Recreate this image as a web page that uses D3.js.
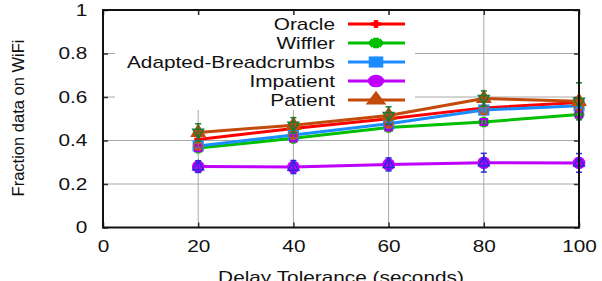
<html lang="en">
<head>
<meta charset="UTF-8">
<title>Fraction data on WiFi</title>
<script src="https://cdn.jsdelivr.net/npm/d3@7"></script>
<style>
  body { margin: 0; background: #fff; }
  text { font-family: "Liberation Sans", Arial, sans-serif; }
</style>
</head>
<body>
<script>
// values
var delays = [20, 40, 60, 80, 100]
var xTicks = [0, 20, 40, 60, 80, 100]
var yTicks = [0, 0.2, 0.4, 0.6, 0.8, 1]
var yTickLabels = ["0", "0.2", "0.4", "0.6", "0.8", "1"]

var oracle = [0.405, 0.455, 0.50, 0.55, 0.575]
var wiffler = [0.365, 0.41, 0.46, 0.485, 0.52]
var breadcrumbs = [0.375, 0.425, 0.477, 0.54, 0.56]
var impatient = [0.28, 0.278, 0.29, 0.298, 0.297]
var patient = [0.437, 0.47, 0.515, 0.593, 0.58]

var wifflerErr = [0.01, 0.01, 0.01, 0.012, 0.012]
var breadcrumbsErr = [0.015, 0.015, 0.015, 0.02, 0.02]
var impatientErr = [0.027, 0.03, 0.03, 0.043, 0.043]
var patientErr = [0.04, 0.035, 0.04, 0.035, 0.085]

var names = ["Oracle", "Wiffler", "Adapted-Breadcrumbs", "Impatient", "Patient"]

var width = 602, height = 281
var pLeft = 103, pRight = 579, pTop = 10, pBottom = 227.5
var sx = 1.3 // the figure looks stretched sideways

var svg = d3.select('body').append('svg')
  .attr('width', width)
  .attr('height', height)

var x = d3.scaleLinear().domain([0, 100]).range([pLeft, pRight])
var y = d3.scaleLinear().domain([0, 1]).range([pBottom, pTop])

// grid
var grid = svg.append('g').attr('stroke', '#a8a8a8').attr('stroke-width', 1)
grid.selectAll('.gx').data(xTicks.slice(1, -1)).enter().append('line')
  .attr('x1', d => x(d)).attr('x2', d => x(d))
  .attr('y1', pTop).attr('y2', pBottom)
grid.selectAll('.gy').data(yTicks.slice(1, -1)).enter().append('line')
  .attr('y1', d => y(d)).attr('y2', d => y(d))
  .attr('x1', pLeft).attr('x2', pRight)

// axes with inward ticks on all sides
function styleAxis(g) {
  g.select('.domain').remove()
  g.selectAll('line').attr('stroke', '#333').attr('stroke-width', 1.5)
  g.selectAll('text')
    .attr('font-size', 16)
    .attr('fill', '#111')
    .attr('font-family', '"Liberation Sans", Arial, sans-serif')
}
svg.append('g').attr('transform', `translate(0,${pBottom})`)
  .call(d3.axisBottom(x).tickValues(xTicks).tickSizeInner(-5).tickSizeOuter(0).tickPadding(13))
  .call(styleAxis)
  .selectAll('text').attr('transform', `scale(${sx},1)`)
svg.append('g').attr('transform', `translate(${pLeft},0)`)
  .call(d3.axisLeft(y).tickValues(yTicks).tickFormat((d, i) => yTickLabels[i]).tickSizeInner(-5).tickSizeOuter(0).tickPadding(12))
  .call(styleAxis)
  .selectAll('text').attr('transform', `scale(${sx},1)`)
svg.append('g').attr('transform', `translate(0,${pTop})`)
  .call(d3.axisTop(x).tickValues(xTicks).tickSizeInner(-5).tickSizeOuter(0).tickFormat(''))
  .call(styleAxis)
svg.append('g').attr('transform', `translate(${pRight},0)`)
  .call(d3.axisRight(y).tickValues(yTicks).tickSizeInner(-5).tickSizeOuter(0).tickFormat(''))
  .call(styleAxis)

// axis titles (the bottom one runs off the edge in the original)
svg.append('text')
  .attr('transform', `translate(${(pLeft + pRight) / 2},283) scale(${sx},1)`)
  .attr('text-anchor', 'middle').attr('font-size', 16).attr('fill', '#111')
  .text('Delay Tolerance (seconds)')
svg.append('text')
  .attr('transform', 'translate(24,118) rotate(-90)')
  .attr('text-anchor', 'middle').attr('font-size', 16.5).attr('fill', '#111')
  .text('Fraction data on WiFi')

// legend box (opaque, no border)
svg.append('rect')
  .attr('x', 115).attr('y', 15).attr('width', 300).attr('height', 95)
  .attr('fill', '#fff')

var series = [
  { name: names[0], values: oracle, color: '#ff0000', sym: d3.symbolPlus, size: 22, filled: false, sw: 3.5 },
  { name: names[1], values: wiffler, color: '#00c000', sym: d3.symbolAsterisk, size: 80, filled: false, sw: 4.5 },
  { name: names[2], values: breadcrumbs, color: '#1a8cff', sym: d3.symbolSquare, size: 125, filled: true },
  { name: names[3], values: impatient, color: '#c000ff', sym: d3.symbolCircle, size: 125, filled: true },
  { name: names[4], values: patient, color: '#c24a0a', sym: d3.symbolTriangle, size: 110, filled: true }
]

var line = d3.line().x((d, i) => x(delays[i])).y(d => y(d))

function drawMarker(g, s, cx, cy, stretch) {
  var p = g.append('path')
    .attr('d', d3.symbol().type(s.sym).size(s.size)())
    .attr('transform', `translate(${cx},${cy}) scale(${stretch},1)`)
  if (s.filled) p.attr('fill', s.color).attr('stroke', 'none')
  else p.attr('fill', 'none').attr('stroke', s.color).attr('stroke-width', s.sw)
}

series.forEach(s => {
  svg.append('path')
    .datum(s.values)
    .attr('d', line)
    .attr('fill', 'none')
    .attr('stroke', s.color)
    .attr('stroke-width', 3)
    .attr('stroke-linejoin', 'round')
  var g = svg.append('g')
  s.values.forEach((v, i) => drawMarker(g, s, x(delays[i]), y(v), 1))
})

// error bar overlays
var overlays = [
  { values: wiffler, err: wifflerErr, color: '#a800e0', sym: d3.symbolSquare, size: 45, rot: 0 },
  { values: breadcrumbs, err: breadcrumbsErr, color: '#c8500f', sym: d3.symbolCircle, size: 55, rot: 0 },
  { values: impatient, err: impatientErr, color: '#2a2ad8', sym: d3.symbolTriangle, size: 50, rot: 0 },
  { values: patient, err: patientErr, color: '#1a7a34', sym: d3.symbolTriangle, size: 50, rot: 180 }
]
overlays.forEach(o => {
  var g = svg.append('g').attr('stroke', o.color).attr('stroke-width', 1.5).attr('fill', 'none')
  o.values.forEach((v, i) => {
    var cx = x(delays[i])
    var y1 = y(v + o.err[i]), y0 = y(v - o.err[i])
    g.append('line').attr('x1', cx).attr('x2', cx).attr('y1', y1).attr('y2', y0)
    g.append('line').attr('x1', cx - 3).attr('x2', cx + 3).attr('y1', y1).attr('y2', y1)
    g.append('line').attr('x1', cx - 3).attr('x2', cx + 3).attr('y1', y0).attr('y2', y0)
    g.append('path')
      .attr('d', d3.symbol().type(o.sym).size(o.size)())
      .attr('transform', `translate(${cx},${y(v)}) rotate(${o.rot})`)
  })
})

// legend entries
var rowY = d3.scaleLinear().domain([0, 4]).range([24, 100])
series.forEach((s, i) => {
  var ly = rowY(i)
  svg.append('text')
    .attr('transform', `translate(335,${ly}) scale(${sx},1)`)
    .attr('text-anchor', 'end').attr('dy', '0.35em')
    .attr('font-size', 16).attr('fill', '#111')
    .text(s.name)
  svg.append('line')
    .attr('x1', 348).attr('x2', 405).attr('y1', ly).attr('y2', ly)
    .attr('stroke', s.color).attr('stroke-width', 3)
  drawMarker(svg, s, 376, ly, 1.3)
})

// frame
svg.append('rect')
  .attr('x', pLeft).attr('y', pTop).attr('width', pRight - pLeft).attr('height', pBottom - pTop)
  .attr('fill', 'none').attr('stroke', '#111').attr('stroke-width', 2)
</script>
</body>
</html>
